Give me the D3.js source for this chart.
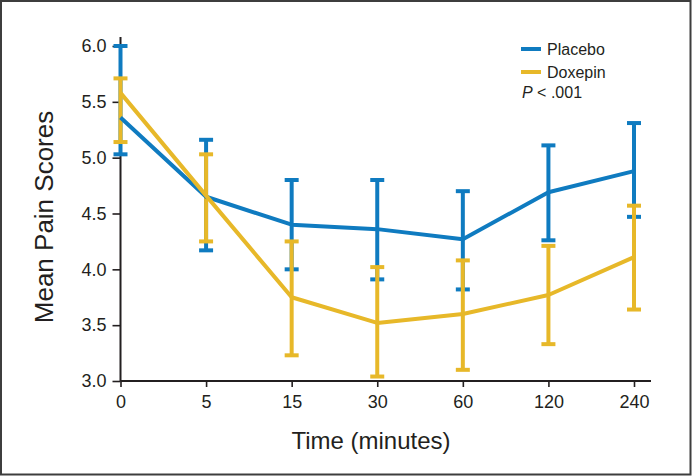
<!DOCTYPE html>
<html>
<head>
<meta charset="utf-8">
<script src="https://cdn.jsdelivr.net/npm/d3@7"></script>
<style>
  html, body { margin: 0; padding: 0; background: #ffffff; }
  svg { display: block; font-family: "Liberation Sans", Arial, Helvetica, sans-serif; }
</style>
</head>
<body>
<svg id="chart" width="692" height="476"></svg>
<script>
// ---- data ----
const timePoints = ["0", "5", "15", "30", "60", "120", "240"];
const yTicks = [3.0, 3.5, 4.0, 4.5, 5.0, 5.5, 6.0];

const placeboMean  = [5.36, 4.65, 4.40, 4.36, 4.27, 4.69, 4.88];
const placeboUpper = [6.00, 5.16, 4.80, 4.80, 4.70, 5.11, 5.31];
const placeboLower = [5.03, 4.17, 4.00, 3.91, 3.82, 4.26, 4.47];

const doxepinMean  = [5.58, 4.66, 3.75, 3.52, 3.60, 3.77, 4.11];
const doxepinUpper = [5.71, 5.03, 4.25, 4.02, 4.08, 4.21, 4.57];
const doxepinLower = [5.14, 4.25, 3.23, 3.04, 3.10, 3.33, 3.64];

const seriesNames = ["Placebo", "Doxepin"];
const seriesColors = ["#0f7bc0", "#e7b829"];

// ---- layout ----
const svg = d3.select("#chart");
const W = 692, H = 476;

svg.append("rect")
  .attr("x", 1).attr("y", 1).attr("width", W - 2.5).attr("height", H - 2.5)
  .attr("fill", "#ffffff").attr("stroke", "#3d3d3d").attr("stroke-width", 2);

const x = d3.scalePoint().domain(timePoints).range([120.5, 634]);
const y = d3.scaleLinear().domain([3, 6]).range([381, 46]);
const axisRight = 651;
const yTop = 6.08;

const axisColor = "#231f20";

// y axis
const gy = svg.append("g").attr("transform", `translate(${x("0")},0)`)
  .call(d3.axisLeft(y).tickValues(yTicks).tickFormat(d3.format(".1f"))
    .tickSize(8).tickPadding(6).tickSizeOuter(0));
gy.select(".domain").remove();
gy.selectAll(".tick line").attr("stroke", axisColor).attr("stroke-width", 1.6);
gy.selectAll(".tick text").attr("fill", "#231f20").style("font-size", "18px")
  .style("font-family", "'Liberation Sans', Arial, sans-serif");

// x axis
const gx = svg.append("g").attr("transform", `translate(0,${y(3)})`)
  .call(d3.axisBottom(x).tickSize(6).tickPadding(8).tickSizeOuter(0));
gx.select(".domain").remove();
gx.selectAll(".tick line").attr("stroke", axisColor).attr("stroke-width", 1.6);
gx.selectAll(".tick text").attr("fill", "#231f20").style("font-size", "18px")
  .style("font-family", "'Liberation Sans', Arial, sans-serif");

// axis lines
svg.append("line")
  .attr("x1", x("0")).attr("x2", x("0"))
  .attr("y1", y(3)).attr("y2", y(yTop))
  .attr("stroke", axisColor).attr("stroke-width", 2);
svg.append("line")
  .attr("x1", x("0")).attr("x2", axisRight)
  .attr("y1", y(3)).attr("y2", y(3))
  .attr("stroke", axisColor).attr("stroke-width", 2);

// axis titles
svg.append("text")
  .attr("transform", `translate(53,${217}) rotate(-90)`)
  .attr("text-anchor", "middle")
  .attr("fill", "#231f20")
  .style("font-size", "26px")
  .text("Mean Pain Scores");

svg.append("text")
  .attr("x", 371).attr("y", 449)
  .attr("text-anchor", "middle")
  .attr("fill", "#231f20")
  .style("font-size", "24px")
  .text("Time (minutes)");

// ---- data marks ----
const series = [
  { name: seriesNames[0], color: seriesColors[0], mean: placeboMean, lo: placeboLower, hi: placeboUpper },
  { name: seriesNames[1], color: seriesColors[1], mean: doxepinMean, lo: doxepinLower, hi: doxepinUpper }
];

const capW = 7;
series.forEach(s => {
  const g = svg.append("g");
  const rows = timePoints.map((t, i) => ({ t, m: s.mean[i], lo: s.lo[i], hi: s.hi[i] }));
  g.selectAll("line.v").data(rows).enter().append("line")
    .attr("x1", d => x(d.t)).attr("x2", d => x(d.t))
    .attr("y1", d => y(d.lo)).attr("y2", d => y(d.hi))
    .attr("stroke", s.color).attr("stroke-width", 4);
  g.selectAll("line.hi").data(rows).enter().append("line")
    .attr("x1", d => x(d.t) - capW).attr("x2", d => x(d.t) + capW)
    .attr("y1", d => y(d.hi)).attr("y2", d => y(d.hi))
    .attr("stroke", s.color).attr("stroke-width", 4);
  g.selectAll("line.lo").data(rows).enter().append("line")
    .attr("x1", d => x(d.t) - capW).attr("x2", d => x(d.t) + capW)
    .attr("y1", d => y(d.lo)).attr("y2", d => y(d.lo))
    .attr("stroke", s.color).attr("stroke-width", 4);
});

const lineGen = d3.line().x(d => x(d.t)).y(d => y(d.m));
series.forEach(s => {
  const rows = timePoints.map((t, i) => ({ t, m: s.mean[i] }));
  svg.append("path").datum(rows)
    .attr("d", lineGen)
    .attr("fill", "none")
    .attr("stroke", s.color)
    .attr("stroke-width", 4)
    .attr("stroke-linejoin", "round");
});

// ---- legend ----
const legend = svg.append("g");
const legY = [49, 72];
series.forEach((s, i) => {
  legend.append("line")
    .attr("x1", 521).attr("x2", 541)
    .attr("y1", legY[i]).attr("y2", legY[i])
    .attr("stroke", s.color).attr("stroke-width", 4);
  legend.append("text")
    .attr("x", 547).attr("y", legY[i] + 5.5)
    .attr("fill", "#231f20")
    .style("font-size", "16px")
    .text(s.name);
});
const pText = legend.append("text")
  .attr("x", 522).attr("y", 98)
  .attr("fill", "#231f20")
  .style("font-size", "16px");
pText.append("tspan").style("font-style", "italic").text("P");
pText.append("tspan").text(" < .001");
</script>
</body>
</html>
